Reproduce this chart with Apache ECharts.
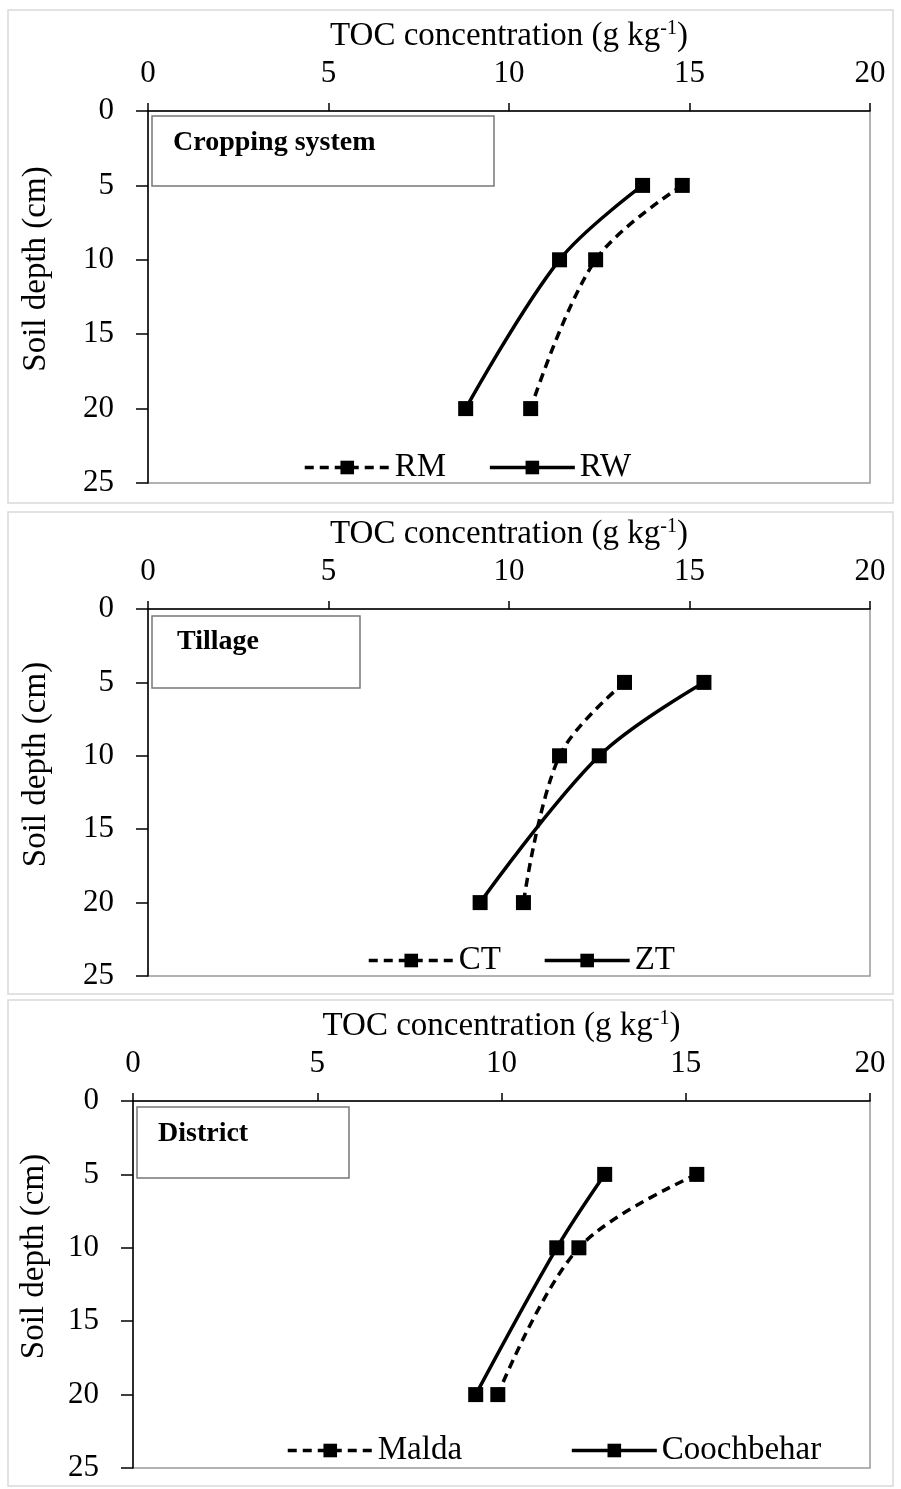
<!DOCTYPE html>
<html>
<head>
<meta charset="utf-8">
<script src="https://cdn.jsdelivr.net/npm/echarts@6/dist/echarts.min.js"></script>
<style>
  html, body { margin: 0; padding: 0; background: #fff; }
  #main { width: 901px; height: 1489px; }
</style>
</head>
<body>
<div id="main"></div>
<script>
// soil depths (cm) where TOC was measured
var depths = [5, 10, 20];

// panel 1 - cropping system
var rmValues = [14.8, 12.4, 10.6];
var rwValues = [13.7, 11.4, 8.8];
// panel 2 - tillage
var ctValues = [13.2, 11.4, 10.4];
var ztValues = [15.4, 12.5, 9.2];
// panel 3 - district
var maldaValues = [15.3, 12.1, 9.9];
var coochValues = [12.8, 11.5, 9.3];

var panelNames = ['Cropping system', 'Tillage', 'District'];
var seriesNames = [['RM', 'RW'], ['CT', 'ZT'], ['Malda', 'Coochbehar']];

var serif = 'Liberation Serif';

function pairs(xs) {
  return xs.map(function (x, i) { return [x, depths[i]]; });
}

function makeSeries(name, values, idx, dashed) {
  return {
    name: name,
    type: 'line',
    xAxisIndex: idx,
    yAxisIndex: idx,
    data: pairs(values),
    smooth: 0.35,
    symbol: 'rect',
    symbolSize: 15,
    itemStyle: { color: '#000' },
    lineStyle: { color: '#000', width: 3.5, type: dashed ? [9, 6] : 'solid' },
    z: 5
  };
}

var grids = [
  { left: 148, right: 31, top: 111, height: 372 },
  { left: 148, right: 31, top: 609, height: 367 },
  { left: 133, right: 31, top: 1101, height: 367 }
];

var xAxes = grids.map(function (g, i) {
  return {
    gridIndex: i,
    type: 'value',
    position: 'top',
    min: 0, max: 20, interval: 5,
    name: 'TOC concentration (g kg{sup|-1})',
    nameLocation: 'middle',
    nameGap: 58,
    nameTextStyle: {
      fontFamily: serif, fontSize: 33, color: '#000',
      rich: { sup: { fontFamily: serif, fontSize: 20, color: '#000', verticalAlign: 'top', padding: [0, 0, 14, 0] } }
    },
    axisLine: { show: true, lineStyle: { color: '#000', width: 1.5 } },
    axisTick: { show: true, length: 8, lineStyle: { color: '#000', width: 1.5 } },
    axisLabel: { fontFamily: serif, fontSize: 31, color: '#000', margin: 22 },
    splitLine: { show: false }
  };
});

var yAxes = grids.map(function (g, i) {
  return {
    gridIndex: i,
    type: 'value',
    inverse: true,
    min: 0, max: 25, interval: 5,
    name: 'Soil depth (cm)',
    nameLocation: 'middle',
    nameGap: i === 2 ? 82 : 95,
    nameTextStyle: { fontFamily: serif, fontSize: 33, color: '#000', padding: [0, 0, 0, 56] },
    axisLine: { show: true, lineStyle: { color: '#000', width: 1.5 } },
    axisTick: { show: true, length: 12, lineStyle: { color: '#000', width: 1.5 } },
    axisLabel: { fontFamily: serif, fontSize: 31, color: '#000', margin: 34 },
    splitLine: { show: false }
  };
});

var legendPos = [
  { left: 298, top: 446, gap: 42 },
  { left: 362, top: 939, gap: 42 },
  { left: 281, top: 1429, gap: 108 }
];

var legends = legendPos.map(function (p, i) {
  return {
    left: p.left,
    top: p.top,
    itemGap: p.gap,
    itemWidth: 85,
    itemHeight: 17,
    data: seriesNames[i],
    lineStyle: { width: 3.5, color: '#000' },
    textStyle: { fontFamily: serif, fontSize: 33, color: '#000' }
  };
});

// labelled boxes in the top-left corner of each plot
var boxes = [
  { x: 152, y: 116, w: 342, h: 70, tx: 173, ty: 143 },
  { x: 152, y: 616, w: 208, h: 72, tx: 177, ty: 642 },
  { x: 137, y: 1107, w: 212, h: 71, tx: 158, ty: 1134 }
];

var graphics = [];
// light frames around each panel
[[8, 10, 885, 493], [8, 512, 885, 482], [8, 1000, 885, 486]].forEach(function (f) {
  graphics.push({
    type: 'rect', shape: { x: f[0], y: f[1], width: f[2], height: f[3] },
    style: { fill: 'none', stroke: '#d9d9d9', lineWidth: 1.5 }, silent: true, z: 0
  });
});
boxes.forEach(function (b, i) {
  graphics.push({
    type: 'rect', shape: { x: b.x, y: b.y, width: b.w, height: b.h },
    style: { fill: '#fff', stroke: '#777', lineWidth: 1.5 }, z: 10
  });
  graphics.push({
    type: 'text', x: b.tx, y: b.ty,
    style: { text: panelNames[i], font: 'bold 28px "Liberation Serif"', fill: '#000', verticalAlign: 'middle' },
    z: 11
  });
});

var option = {
  animation: false,
  grid: grids.map(function (g) {
    return Object.assign({ show: true, borderColor: '#999', borderWidth: 1.5, backgroundColor: 'transparent' }, g);
  }),
  xAxis: xAxes,
  yAxis: yAxes,
  legend: legends,
  graphic: graphics,
  series: [
    makeSeries('RM', rmValues, 0, true),
    makeSeries('RW', rwValues, 0, false),
    makeSeries('CT', ctValues, 1, true),
    makeSeries('ZT', ztValues, 1, false),
    makeSeries('Malda', maldaValues, 2, true),
    makeSeries('Coochbehar', coochValues, 2, false)
  ]
};

var chart = echarts.init(document.getElementById('main'));
chart.setOption(option);
</script>
</body>
</html>
